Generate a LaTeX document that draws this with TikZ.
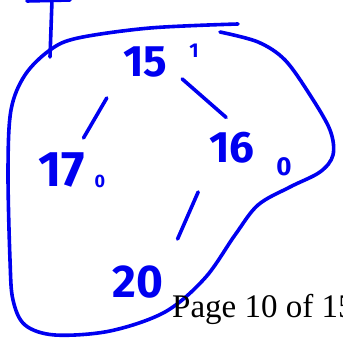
\documentclass[tikz,border=0pt]{standalone}
\usepackage{fontspec}
\newfontfamily\handfont{Fira Sans}
\newfontfamily\pagefont{Liberation Serif}
\definecolor{penblue}{RGB}{0, 0, 240}
\usetikzlibrary{positioning, calc}

\tikzset{
  num/.style={font=\handfont\bfseries\fontsize{44}{44}\selectfont, text=penblue, inner sep=0pt, anchor=base},
  sub/.style={font=\handfont\bfseries\fontsize{20}{20}\selectfont, text=penblue, inner sep=0pt, anchor=base},
  edge/.style={draw=penblue, line width=3.6pt, line cap=round},
  blob/.style={draw=penblue, line width=3.6pt, line cap=round, line join=round},
}

\begin{document}
\begin{tikzpicture}[x=1pt, y=-1pt]
  \useasboundingbox (0,0) rectangle (343,339);

  % numbers
  \node[num] (n15) at (145,77) {15};
  \node[sub] (s15) at (194,58) {1};
  \node[num, font=\handfont\bfseries\fontsize{50}{50}\selectfont] (n17) at (62,187) {17};
  \node[sub, font=\handfont\bfseries\fontsize{18}{18}\selectfont] (s17) at (100,188) {0};
  \node[num] (n16) at (232,163) {16};
  \node[sub, font=\handfont\bfseries\fontsize{26}{26}\selectfont] (s16) at (284,176) {0};
  \node[num, font=\handfont\bfseries\fontsize{46}{46}\selectfont] (n20) at (138,298) {20};

  % strokes between numbers
  \draw[edge] ([xshift=-16pt,yshift=-20pt]n15.south west) -- ([xshift=-2pt,yshift=15pt]n17.north east);
  \draw[edge] ([xshift=15pt,yshift=-1pt]n15.south east) -- ([xshift=17pt,yshift=15pt]n16.north west);
  \draw[edge] ([xshift=-11pt,yshift=-28pt]n16.south west) -- ([xshift=14pt,yshift=27pt]n20.north east);

  % outline
  \draw[blob] plot[smooth, tension=0.55] coordinates {
    (238,24) (150,28) (78,38) (50,50) (25,75) (11,110) (8,170) (10,260)
    (13,300) (25,325) (55,335) (110,331) (165,312) (205,278) (235,235)
    (258,205) (290,187) (320,172) (333,155) (330,130) (310,95) (285,60)
    (258,42) (220,32)};
  \draw[edge] (52,0) -- (50,57);
  \draw[edge] (27,1) -- (70,0);

  \node[font=\pagefont\fontsize{33}{33}\selectfont, anchor=base west, inner sep=0pt] (page) at (172,318) {Page 10 of 15};
\end{tikzpicture}
\end{document}
